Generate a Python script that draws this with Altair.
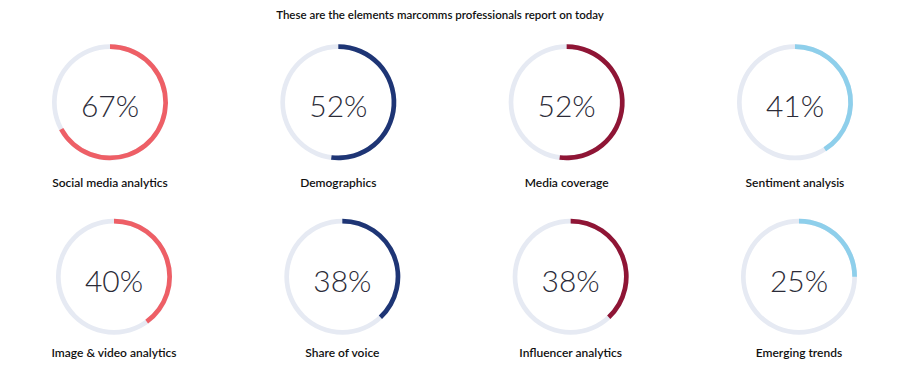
import altair as alt
import pandas as pd

title_text = "These are the elements marcomms professionals report on today"
labels = ["Social media analytics", "Demographics", "Media coverage", "Sentiment analysis",
          "Image & video analytics", "Share of voice", "Influencer analytics", "Emerging trends"]
values = [67, 52, 52, 41, 40, 38, 38, 25]
palette = ["#EE5F66", "#1E3575", "#8F1535", "#8ECFEB"]
n_cols = 4

df = pd.DataFrame({"label": labels, "value": values})
df["color"] = [palette[i % n_cols] for i in range(len(df))]
df["col"] = [i % n_cols for i in range(len(df))]
df["row"] = [i // n_cols for i in range(len(df))]
df["zero"] = 0
df["full"] = 100
df["pct"] = df["value"].astype(str) + "%"

X = alt.X("col:Q", scale=alt.Scale(domain=[-0.4467, 3.4249], nice=False, zero=False), axis=None)
Y = alt.Y("row:Q", scale=alt.Scale(domain=[-0.5407, 1.5866], nice=False, zero=False, reverse=True), axis=None)
theta_scale = alt.Scale(domain=[0, 100], range=[0, 6.283185])

R_OUT, R_IN = 58, 53.3


def row_layers(r, x_off, label_dy):
    base = alt.Chart(df).transform_filter(alt.datum.row == r)
    ring = base.mark_arc(radius=R_OUT, radius2=R_IN, color="#E6EAF3", xOffset=x_off).encode(
        x=X, y=Y,
        theta=alt.Theta("zero:Q", scale=theta_scale),
        theta2="full:Q",
    )
    arc = base.mark_arc(radius=R_OUT, radius2=R_IN, xOffset=x_off).encode(
        x=X, y=Y,
        theta=alt.Theta("zero:Q", scale=theta_scale),
        theta2="value:Q",
        color=alt.Color("color:N", scale=None),
    )
    pct = base.mark_text(font="Lato", fontSize=30, fontWeight=300, dy=6, color="#2b2b38",
                         xOffset=x_off).encode(x=X, y=Y, text="pct:N")
    lab = base.mark_text(font="Lato", fontSize=12, fontWeight=600, dy=label_dy, color="#111111",
                         xOffset=x_off).encode(x=X, y=Y, text="label:N")
    return [ring, arc, pct, lab]


layers = row_layers(0, 0, 80.7) + row_layers(1, 4, 76.3)

chart = alt.layer(*layers).properties(
    width=884, height=371, padding=0, autosize="none",
    title=alt.TitleParams(text=title_text, font="Lato", fontSize=11.5, fontWeight=600,
                          anchor="middle", dx=-10, dy=17, color="#111111"),
).configure_view(stroke=None)

chart.save("out.html", embed_options={"renderer": "svg", "actions": False})
